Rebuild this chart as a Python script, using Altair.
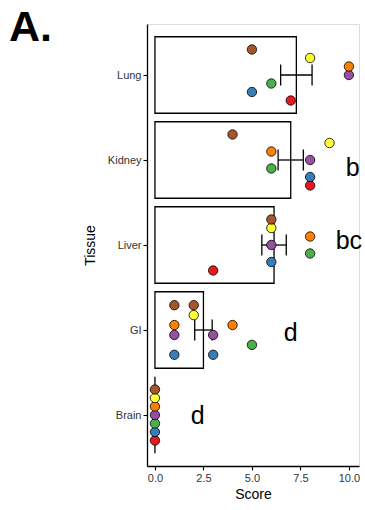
import altair as alt
import pandas as pd

# Tissues, top to bottom
tissues = ["Lung", "Kidney", "Liver", "GI", "Brain"]

# Animals in dodge order (first = bottom of each row) and their colours
animals = ["A1", "A2", "A3", "A4", "A5", "A6", "A7"]
animal_colors = ["#E41A1C", "#377EB8", "#4DAF4A", "#984EA3", "#FF7F00", "#FFFF33", "#A65628"]

# Scores per animal for each tissue (one list per animal, same order as `animals`)
lung_scores = [[7], [5], [6], [10], [10], [8], [5]]
kidney_scores = [[8], [8], [6], [8], [6], [9], [4]]
liver_scores = [[3], [6], [8], [6], [8], [6], [6]]
gi_scores = [[], [1, 3], [5], [1, 3], [1, 4], [2], [1, 2]]
brain_scores = [[0], [0], [0], [0], [0], [0], [0]]

# Group means and standard errors
tissue_means = [7.29, 7.0, 6.14, 2.5, 0.0]
tissue_sems = [0.81, 0.65, 0.63, 0.45, 0.0]

# Significance letters
letters = ["b", "bc", "d", "d"]
letter_tissue = ["Kidney", "Liver", "GI", "Brain"]
letter_x = [10.2, 10.0, 7.0, 2.2]
letter_shift = [0.09, -0.05, 0.03, 0.01]

FONT = "Liberation Sans"

score_table = [lung_scores, kidney_scores, liver_scores, gi_scores, brain_scores]
points = pd.DataFrame(
    [
        {"tissue": t, "tIdx": i, "animal": a, "g": j + 1, "score": s}
        for i, (t, per_animal) in enumerate(zip(tissues, score_table))
        for j, (a, vals) in enumerate(zip(animals, per_animal))
        for s in vals
    ]
)
summary = pd.DataFrame(
    {"tissue": tissues, "tIdx": list(range(len(tissues))),
     "mean": tissue_means, "sem": tissue_sems}
)
letter_df = pd.DataFrame(
    {"label": letters, "tIdx": [tissues.index(t) for t in letter_tissue],
     "x": letter_x, "shift": letter_shift}
)

label_expr = "[" + ",".join(f"'{t}'" for t in tissues) + "][datum.value]"

x_scale = alt.Scale(domain=[-0.41, 10.52], nice=False, zero=False)
y_scale = alt.Scale(domain=[-0.6, 4.6], reverse=True, nice=False, zero=False)

x_axis = alt.Axis(
    title="Score", values=[0, 2.5, 5, 7.5, 10], format=".1f", grid=False,
    labelFontSize=11, labelColor="#333333", titleFontSize=14, titleFontWeight="normal",
    titleColor="black", titlePadding=4, domainColor="black", domainWidth=1.3,
    tickColor="black", tickWidth=1.1, tickSize=4, labelPadding=2, labelFont=FONT, titleFont=FONT,
)
y_axis = alt.Axis(
    title="Tissue", values=[0, 1, 2, 3, 4], labelExpr=label_expr, grid=False,
    labelFontSize=11, labelColor="#333333", titleFontSize=14, titleFontWeight="normal",
    titleColor="black", titlePadding=10, domainColor="black", domainWidth=1.3,
    tickColor="black", tickWidth=1.1, tickSize=4, labelPadding=2, labelFont=FONT, titleFont=FONT,
)

base_sum = alt.Chart(summary)

bars = base_sum.transform_calculate(
    y0="datum.tIdx - 0.45", y1="datum.tIdx + 0.45"
).mark_rect(fill="white", fillOpacity=0, stroke="black", strokeWidth=1.3).encode(
    x=alt.X("mean:Q", scale=x_scale, axis=x_axis),
    x2=alt.datum(0),
    y=alt.Y("y0:Q", scale=y_scale, axis=y_axis),
    y2="y1:Q",
)

err = base_sum.transform_calculate(
    lo="datum.mean - datum.sem", hi="datum.mean + datum.sem"
)
err_rule = err.mark_rule(color="black", strokeWidth=1.3).encode(
    x=alt.X("lo:Q", scale=x_scale), x2="hi:Q",
    y=alt.Y("tIdx:Q", scale=y_scale),
)
err_lo = err.mark_tick(orient="vertical", size=21, thickness=1.3, color="black", opacity=1).encode(
    x=alt.X("lo:Q", scale=x_scale), y=alt.Y("tIdx:Q", scale=y_scale),
)
err_hi = err.mark_tick(orient="vertical", size=21, thickness=1.3, color="black", opacity=1).encode(
    x=alt.X("hi:Q", scale=x_scale), y=alt.Y("tIdx:Q", scale=y_scale),
)

# Dodge the points by animal within each tissue (total dodge width 0.7)
dots = alt.Chart(points).transform_window(
    rank="dense_rank()", sort=[alt.SortField("g", order="ascending")], groupby=["tissue"]
).transform_joinaggregate(
    n="distinct(g)", groupby=["tissue"]
).transform_calculate(
    ypos="datum.tIdx + 0.35 - 0.7 / datum.n * (datum.rank - 0.5)"
).mark_circle(size=88, opacity=1, stroke="black", strokeWidth=0.8).encode(
    x=alt.X("score:Q", scale=x_scale),
    y=alt.Y("ypos:Q", scale=y_scale),
    color=alt.Color("animal:N", scale=alt.Scale(domain=animals, range=animal_colors), legend=None),
)

letter_marks = alt.Chart(letter_df).transform_calculate(
    ly="datum.tIdx + datum.shift"
).mark_text(fontSize=25, font=FONT, color="black", align="center", baseline="middle").encode(
    x=alt.X("x:Q", scale=x_scale),
    y=alt.Y("ly:Q", scale=y_scale),
    text="label:N",
)

panel_tag = alt.Chart(alt.Data(values=[{"t": "A."}])).mark_text(
    fontSize=43, fontWeight="bold", font=FONT, color="black", align="left", baseline="alphabetic"
).encode(x=alt.value(-138), y=alt.value(17), text="t:N")

chart = alt.layer(
    bars, err_rule, err_lo, err_hi, dots, letter_marks, panel_tag
).properties(
    width=212, height=442,
    autosize=alt.AutoSizeParams(type="none"),
    padding={"left": 147, "top": 24, "right": 6, "bottom": 44},
).configure_view(stroke=None).configure(background="white")

chart.save("out.html", embed_options={"renderer": "svg", "actions": False})
